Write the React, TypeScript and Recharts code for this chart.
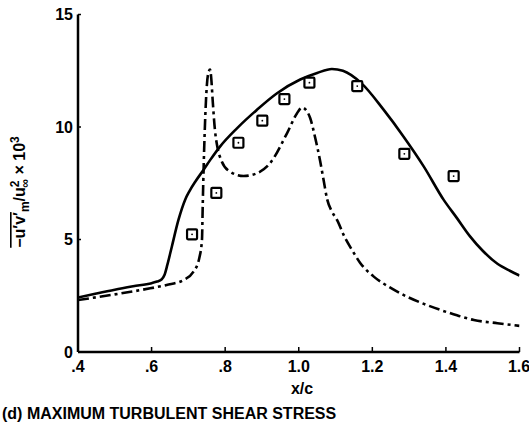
import React from "react";
import { ComposedChart, Line, Scatter, XAxis, YAxis } from "recharts";

const xTicks = [0.4, 0.6, 0.8, 1.0, 1.2, 1.4, 1.6];
const xTickLabels = [".4", ".6", ".8", "1.0", "1.2", "1.4", "1.6"];
const yTicks = [0, 5, 10, 15];

const solidX = [0.4, 0.45, 0.5, 0.55, 0.6, 0.615, 0.627, 0.635, 0.643, 0.655, 0.673, 0.691, 0.703, 0.72, 0.741, 0.76, 0.786, 0.832, 0.886, 0.941, 1.004, 1.05, 1.09, 1.12, 1.17, 1.231, 1.285, 1.34, 1.394, 1.43, 1.465, 1.5, 1.54, 1.575, 1.6];
const solidY = [2.42, 2.6, 2.77, 2.92, 3.06, 3.13, 3.22, 3.42, 3.88, 4.68, 5.87, 6.76, 7.15, 7.6, 8.09, 8.55, 9.13, 9.94, 10.76, 11.5, 12.11, 12.4, 12.58, 12.5, 11.95, 10.76, 9.57, 8.24, 6.76, 5.95, 5.15, 4.5, 3.92, 3.6, 3.4];

const dashX = [0.4, 0.5, 0.596, 0.641, 0.687, 0.714, 0.73, 0.737, 0.739, 0.742, 0.746, 0.75, 0.755, 0.759, 0.762, 0.766, 0.772, 0.779, 0.79, 0.81, 0.85, 0.886, 0.922, 0.968, 0.995, 1.009, 1.02, 1.031, 1.045, 1.058, 1.068, 1.077, 1.09, 1.104, 1.125, 1.145, 1.167, 1.204, 1.25, 1.294, 1.34, 1.385, 1.43, 1.476, 1.54, 1.6];
const dashY = [2.31, 2.56, 2.83, 2.98, 3.2, 3.57, 4.2, 5.0, 6.5, 8.5, 10.5, 11.8, 12.45, 12.55, 12.2, 11.2, 9.9, 9.1, 8.5, 8.05, 7.82, 7.94, 8.39, 9.72, 10.6, 10.87, 10.75, 10.4, 9.5, 8.5, 7.6, 6.8, 6.25, 5.87, 5.1, 4.53, 3.96, 3.35, 2.85, 2.46, 2.14, 1.87, 1.63, 1.42, 1.28, 1.16];

const measuredX = [0.71, 0.776, 0.836, 0.901, 0.961, 1.029, 1.159, 1.287, 1.421];
const measuredY = [5.23, 7.07, 9.3, 10.28, 11.24, 11.97, 11.82, 8.81, 7.82];

const solidData = solidX.map((x, i) => ({ x, y: solidY[i] }));
const dashData = dashX.map((x, i) => ({ x, y: dashY[i] }));
const measuredData = measuredX.map((x, i) => ({ x, y: measuredY[i] }));

const FONT = "'Liberation Sans', Arial, Helvetica, sans-serif";
const tickStyle = { fontFamily: FONT, fontWeight: "bold" as const, fontSize: 16, fill: "#000" };

const SquareShape = (props: any) => {
  const { cx, cy } = props;
  if (cx == null || cy == null) return null;
  return (
    <g>
      <rect x={cx - 5} y={cy - 5} width={10} height={10} rx={1} fill="#fff" stroke="#000" strokeWidth={2.2} />
      <circle cx={cx} cy={cy} r={0.9} fill="#000" />
    </g>
  );
};

const YLabel = () => (
  <text
    x={0}
    y={0}
    transform="translate(25,192) rotate(-90)"
    textAnchor="middle"
    style={{ fontFamily: FONT, fontWeight: "bold", fontSize: 16, fill: "#000" }}
  >
    <tspan textDecoration="overline">−u′v′</tspan>
    <tspan fontSize={12} dy={4}>m</tspan>
    <tspan dy={-4}>/u</tspan>
    <tspan fontSize={12} dy={-6}>2</tspan>
    <tspan fontSize={12} dx={-7} dy={10}>∞</tspan>
    <tspan dy={-4}> × 10</tspan>
    <tspan fontSize={12} dy={-6}>3</tspan>
  </text>
);

const XLabel = () => (
  <g>
    <text x={302} y={394} textAnchor="middle" style={{ fontFamily: FONT, fontWeight: "bold", fontSize: 16, fill: "#000" }}>
      x/c
    </text>
    <text x={2} y={419} textAnchor="start" style={{ fontFamily: FONT, fontWeight: "bold", fontSize: 16, fill: "#000" }}>
      (d) MAXIMUM TURBULENT SHEAR STRESS
    </text>
  </g>
);

export default function App() {
  return (
    <div style={{ position: "absolute", left: 0, top: 0, background: "#fff" }}>
      <ComposedChart width={529} height={427} margin={{ top: 14.5, right: 9.5, bottom: 35, left: 38 }}>
        <XAxis
          dataKey="x"
          type="number"
          domain={[0.4, 1.6]}
          ticks={xTicks}
          allowDataOverflow
          height={40}
          tickFormatter={(v: number) => xTickLabels[xTicks.findIndex((t) => Math.abs(t - v) < 1e-6)] ?? String(v)}
          tick={tickStyle}
          tickSize={-5}
          tickMargin={14}
          axisLine={{ stroke: "#000", strokeWidth: 2.5 }}
          tickLine={{ stroke: "#000", strokeWidth: 1.5 }}
          label={{ content: () => <XLabel /> }}
        />
        <YAxis
          type="number"
          domain={[0, 15]}
          ticks={yTicks}
          width={40}
          tick={tickStyle}
          tickSize={-3}
          tickMargin={8}
          axisLine={{ stroke: "#000", strokeWidth: 2.5 }}
          tickLine={{ stroke: "#000", strokeWidth: 1.5 }}
          label={{ content: () => <YLabel /> }}
        />
        <Line
          data={solidData}
          dataKey="y"
          type="monotone"
          stroke="#000"
          strokeWidth={2.6}
          dot={false}
          activeDot={false}
          isAnimationActive={false}
        />
        <Line
          data={dashData}
          dataKey="y"
          type="monotone"
          stroke="#000"
          strokeWidth={2.6}
          strokeDasharray="11 4 3 4"
          dot={false}
          activeDot={false}
          isAnimationActive={false}
        />
        <Scatter data={measuredData} dataKey="y" shape={SquareShape} isAnimationActive={false} />
      </ComposedChart>
    </div>
  );
}
